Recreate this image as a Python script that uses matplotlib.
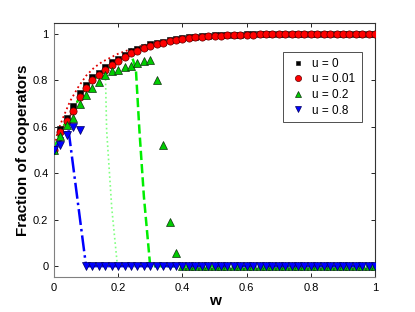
import numpy as np
import matplotlib
matplotlib.use("Agg")
import matplotlib.pyplot as plt

plt.rcParams['font.family'] = ['Liberation Sans', 'DejaVu Sans']

w = np.round(np.arange(0, 1.0001, 0.02), 2)

u0 = [0.5, 0.59, 0.64, 0.69, 0.747, 0.78, 0.813, 0.83, 0.856, 0.878,
      0.893, 0.91, 0.926, 0.935, 0.945, 0.955, 0.96, 0.967, 0.973, 0.978,
      0.982, 0.986, 0.989, 0.99, 0.992, 0.994, 0.995, 0.996, 0.997, 0.997,
      0.998, 0.998, 0.999, 0.999, 0.999, 0.999, 1.0, 1.0, 1.0, 1.0,
      1.0, 1.0, 1.0, 1.0, 1.0, 1.0, 1.0, 1.0, 1.0, 1.0, 1.0]
u001 = [0.5, 0.58, 0.625, 0.67, 0.73, 0.766, 0.80, 0.823, 0.845, 0.865,
        0.885, 0.90, 0.917, 0.928, 0.938, 0.948, 0.955, 0.962, 0.968, 0.974,
        0.979, 0.983, 0.986, 0.988, 0.99, 0.992, 0.993, 0.994, 0.995, 0.996,
        0.997, 0.997, 0.998, 0.998, 0.998, 0.999, 0.999, 0.999, 0.999, 1.0,
        1.0, 1.0, 1.0, 1.0, 1.0, 1.0, 1.0, 1.0, 1.0, 1.0, 1.0]
u02 = [0.5, 0.56, 0.61, 0.64, 0.70, 0.737, 0.766, 0.794, 0.823, 0.842,
       0.845, 0.859, 0.862, 0.874, 0.884, 0.89, 0.80, 0.52, 0.19, 0.055] + [0.0] * 31
u08 = [0.5, 0.52, 0.565, 0.60, 0.586] + [0.0] * 46

# theory curves
th_red_w = [0, 0.01, 0.02, 0.03, 0.05, 0.075, 0.1, 0.125, 0.15, 0.2, 0.25, 0.3, 0.4, 0.5, 0.6, 0.8, 1.0]
th_red_y = [0.5, 0.57, 0.61, 0.645, 0.71, 0.77, 0.82, 0.855, 0.88, 0.915, 0.94, 0.96, 0.98, 0.99, 0.995, 1.0, 1.0]

th_g1_w = [0, 0.02, 0.04, 0.06, 0.08, 0.1, 0.12, 0.14, 0.16, 0.164, 0.18, 0.197, 0.2, 1.0]
th_g1_y = [0.5, 0.58, 0.625, 0.67, 0.73, 0.766, 0.80, 0.823, 0.845, 0.586, 0.25, 0.01, 0.0, 0.0]

th_g2_w = [0, 0.02, 0.04, 0.06, 0.08, 0.1, 0.12, 0.14, 0.16, 0.18, 0.2, 0.22, 0.24, 0.255, 0.266, 0.28, 0.299, 0.3, 1.0]
th_g2_y = [0.5, 0.58, 0.625, 0.67, 0.73, 0.766, 0.80, 0.823, 0.845, 0.865, 0.885, 0.90, 0.915, 0.85, 0.586, 0.3, 0.01, 0.0, 0.0]

th_b_w = [0, 0.02, 0.045, 0.1, 1.0]
th_b_y = [0.5, 0.54, 0.59, 0.0, 0.0]

fig = plt.figure(figsize=(4.15, 3.12), dpi=100)
ax = fig.add_axes([0.130, 0.112, 0.774, 0.814])

ax.plot(th_red_w, th_red_y, color='#e00000', linestyle=':', linewidth=1.3, zorder=2)
ax.plot(w, u001, color='#ff0000', linestyle='-.', linewidth=1.3, zorder=2)
ax.plot(th_g1_w, th_g1_y, color='#80ff80', linestyle=':', linewidth=1.2, zorder=2)
ax.plot(th_g2_w, th_g2_y, color='#00ee00', linestyle='--', linewidth=1.8, zorder=2)
ax.plot(th_b_w, th_b_y, color='#0000ff', linestyle='-.', linewidth=1.8, zorder=2)

ax.plot(w, u0, 's', color='black', markersize=4.2, markeredgecolor='#222222',
        markeredgewidth=0.5, linestyle='none', label='u = 0', zorder=3)
ax.plot(w, u001, 'o', color='#ff0000', markersize=5.2, markeredgecolor='#600000',
        markeredgewidth=0.5, linestyle='none', label='u = 0.01', zorder=4)
ax.plot(w, u02, '^', color='#00cc00', markersize=5.2, markeredgecolor='#103010',
        markeredgewidth=0.5, linestyle='none', label='u = 0.2', zorder=5)
ax.plot(w, u08, 'v', color='#0000ff', markersize=5.6, markeredgecolor='#000060',
        markeredgewidth=0.5, linestyle='none', label='u = 0.8', zorder=6)

ax.set_xlim(0, 1)
ax.set_ylim(-0.047, 1.047)
ax.set_xticks([0, 0.2, 0.4, 0.6, 0.8, 1])
ax.set_xticklabels(['0', '0.2', '0.4', '0.6', '0.8', '1'])
ax.set_yticks([0, 0.2, 0.4, 0.6, 0.8, 1])
ax.set_yticklabels(['0', '0.2', '0.4', '0.6', '0.8', '1'])
ax.tick_params(direction='in', top=True, right=True, length=3, width=0.6,
               labelsize=8, pad=4)
for s in ax.spines.values():
    s.set_linewidth(0.8)
    s.set_color('#333333')
ax.spines['left'].set_color('#808080')
ax.spines['bottom'].set_color('#808080')

ax.set_xlabel('w', fontsize=11, fontweight='bold', labelpad=1)
ax.set_ylabel('Fraction of cooperators', fontsize=11, fontweight='bold', labelpad=2)

leg = ax.legend(loc='upper left', bbox_to_anchor=(0.713, 0.886), fontsize=8.5,
                frameon=True, fancybox=False, edgecolor='black', handletextpad=0.5,
                borderpad=0.5, labelspacing=0.3, handlelength=1.5, borderaxespad=0,
                markerscale=0.85)
leg.get_frame().set_linewidth(0.6)

fig.savefig('out.png', dpi=100)
